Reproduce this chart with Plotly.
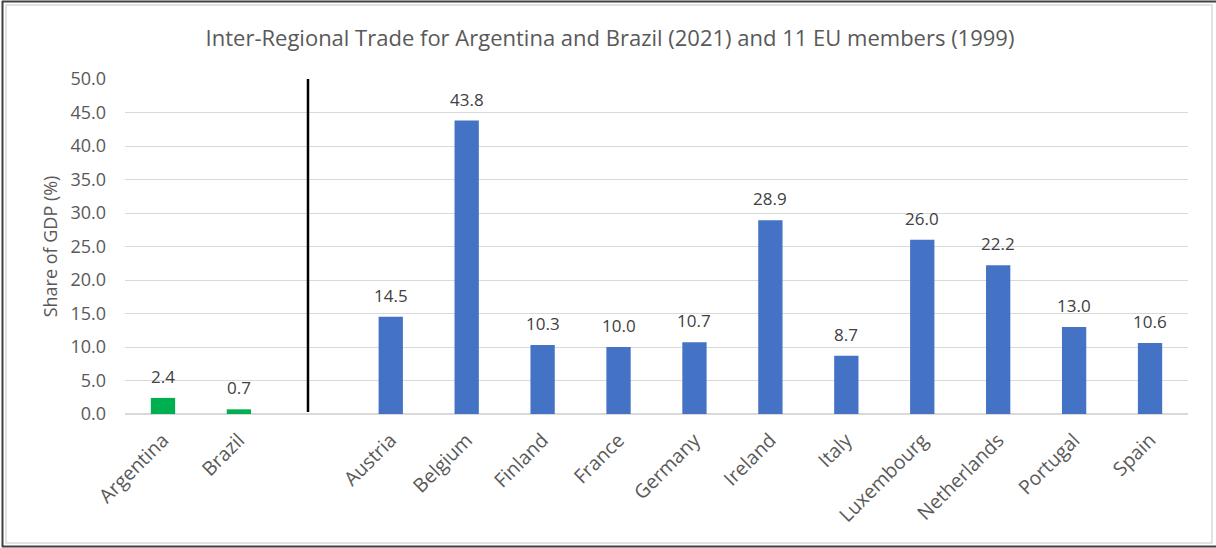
import plotly.graph_objects as go

# Countries in display order; " " is an empty slot separating the two groups
countries = ["Argentina", "Brazil", " ", "Austria", "Belgium", "Finland", "France",
             "Germany", "Ireland", "Italy", "Luxembourg", "Netherlands", "Portugal", "Spain"]
share_gdp = [2.4, 0.7, None, 14.5, 43.8, 10.3, 10.0, 10.7, 28.9, 8.7, 26.0, 22.2, 13.0, 10.6]
groups = ["mercosur", "mercosur", None] + ["eu"] * 11
y_ticks = [0, 5, 10, 15, 20, 25, 30, 35, 40, 45, 50]

GREEN = "#00B050"
BLUE = "#4472C4"
FONT = "Open Sans"
bar_colors = [GREEN if g == "mercosur" else BLUE for g in groups]

W, H = 1216, 548
ML, MR, MT, MB = 125, 28, 79, 134
PW, PH = W - ML - MR, H - MT - MB

fig = go.Figure()
fig.add_trace(go.Bar(
    x=countries,
    y=share_gdp,
    marker=dict(color=bar_colors, line=dict(width=0)),
    width=0.32,
    hoverinfo="x+y",
))

# Value labels above each bar
for c, v in zip(countries, share_gdp):
    if v is None:
        continue
    fig.add_annotation(x=c, y=v, text=f"{v:.1f}", showarrow=False,
                       xref="x", yref="y", yanchor="bottom", yshift=8,
                       font=dict(family=FONT, size=17, color="#404040"))

# Divider between the two country groups
fig.add_shape(type="line", xref="x", yref="y", x0=1.91, x1=1.91, y0=0.3, y1=50.4,
              line=dict(color="#000000", width=2.5))


def px_to_paper_x(px):
    return (px - ML) / PW


def px_to_paper_y(py):
    return 1 - (py - MT) / PH


# Chart frame: light inner border and darker outer edge
fig.add_shape(type="rect", xref="paper", yref="paper",
              x0=px_to_paper_x(6), x1=px_to_paper_x(1212),
              y0=px_to_paper_y(543), y1=px_to_paper_y(5),
              line=dict(color="#D9D9D9", width=1.5), layer="below")
for (ax0, ay0, ax1, ay1) in [(2, 1.5, 1216, 1.5), (2.5, 1, 2.5, 547), (2, 546.5, 1216, 546.5)]:
    fig.add_shape(type="line", xref="paper", yref="paper",
                  x0=px_to_paper_x(ax0), x1=px_to_paper_x(ax1),
                  y0=px_to_paper_y(ay0), y1=px_to_paper_y(ay1),
                  line=dict(color="#404040", width=2))

fig.update_layout(
    width=W, height=H,
    margin=dict(l=ML, r=MR, t=MT, b=MB, pad=0),
    paper_bgcolor="white",
    plot_bgcolor="white",
    showlegend=False,
    title=dict(
        text="Inter-Regional Trade for Argentina and Brazil (2021) and 11 EU members (1999)",
        x=610 / W, xref="container", xanchor="center",
        y=1 - 38 / H, yanchor="middle",
        font=dict(family=FONT, size=22, color="#595959"),
    ),
    xaxis=dict(
        type="category",
        categoryorder="array",
        categoryarray=countries,
        tickangle=-45,
        tickfont=dict(family=FONT, size=19.5, color="#595959"),
        ticklabelstandoff=10,
        showgrid=False,
        showline=False,
        ticks="",
        zeroline=False,
    ),
    yaxis=dict(
        range=[0, 50],
        tickvals=y_ticks,
        ticktext=[f"{t:.1f}" for t in y_ticks],
        tickfont=dict(family=FONT, size=18, color="#595959"),
        ticklabelstandoff=18,
        showgrid=True,
        gridcolor="#D9D9D9",
        gridwidth=1,
        zeroline=True,
        zerolinecolor="#D9D9D9",
        zerolinewidth=1.5,
        ticks="",
        ticklen=0,
        title=dict(text="Share of GDP (%)",
                   font=dict(family=FONT, size=18, color="#595959"),
                   standoff=8),
    ),
)

fig.write_html("out.html")
